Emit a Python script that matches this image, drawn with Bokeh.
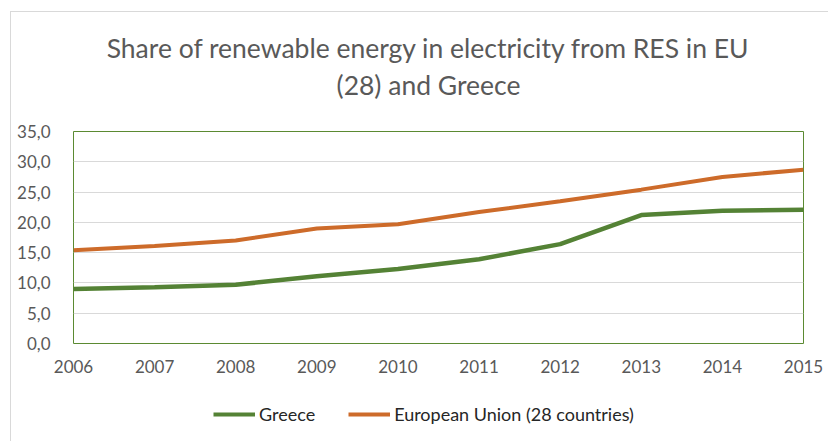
from bokeh.plotting import figure
from bokeh.models import Legend, LegendItem, Label, FixedTicker, ColumnDataSource, Range1d
from bokeh.layouts import column
from bokeh.embed import file_html
from bokeh.resources import INLINE

years = [2006, 2007, 2008, 2009, 2010, 2011, 2012, 2013, 2014, 2015]
greece = [9.0, 9.3, 9.7, 11.1, 12.3, 13.9, 16.4, 21.2, 21.9, 22.1]
eu28 = [15.4, 16.1, 17.0, 19.0, 19.7, 21.7, 23.5, 25.4, 27.5, 28.7]
y_ticks = [0, 5, 10, 15, 20, 25, 30, 35]
y_tick_labels = ["0,0", "5,0", "10,0", "15,0", "20,0", "25,0", "30,0", "35,0"]
x_tick_labels = [str(y) for y in years]
title_lines = ["Share of renewable energy in electricity from RES in EU", "(28) and Greece"]
series_names = ["Greece", "European Union (28 countries)"]
series_colors = ["#548235", "#cd6b2a"]

FONT = "Lato"
TXT = "#595959"
W = 817


def blank_fig(height):
    f = figure(width=W, height=height, output_backend="svg", toolbar_location=None,
               x_range=Range1d(0, 1), y_range=Range1d(0, 1),
               x_axis_location=None, y_axis_location=None,
               min_border=0, min_border_left=0, min_border_right=0,
               min_border_top=0, min_border_bottom=0)
    f.grid.visible = False
    f.outline_line_color = None
    return f


# title block (its frame is aligned with the chart frame by the column layout)
tf = blank_fig(110)
for txt, yy in zip(title_lines, [75, 38]):
    tf.add_layout(Label(x=355, y=yy, x_units="screen", y_units="screen", text=txt,
                        text_align="center", text_baseline="middle",
                        text_font=FONT, text_font_size="26.5px", text_color=TXT))

# main chart
p = figure(frame_width=730, frame_height=212, output_backend="svg", toolbar_location=None,
           x_range=(years[0], years[-1]), y_range=(0, 35), title=None,
           min_border_left=62, min_border_right=25, min_border_top=9, min_border_bottom=0)
p.outline_line_color = "#5b8a32"
p.outline_line_width = 1
p.xgrid.grid_line_color = None
p.ygrid.grid_line_color = "#d9d9d9"
p.ygrid.grid_line_width = 1

p.xaxis.ticker = FixedTicker(ticks=years)
p.xaxis.major_label_overrides = {y: l for y, l in zip(years, x_tick_labels)}
p.yaxis.ticker = FixedTicker(ticks=y_ticks)
p.yaxis.major_label_overrides = {t: l for t, l in zip(y_ticks, y_tick_labels)}
for ax in (p.xaxis, p.yaxis):
    ax.axis_line_color = None
    ax.major_tick_line_color = None
    ax.minor_tick_line_color = None
    ax.major_label_text_font = FONT
    ax.major_label_text_font_size = "17px"
    ax.major_label_text_color = TXT
p.yaxis.major_label_standoff = 17
p.xaxis.major_label_standoff = 10

src = ColumnDataSource(dict(x=years, g=greece, e=eu28))
p.line("x", "g", source=src, line_color=series_colors[0], line_width=4.5)
p.line("x", "e", source=src, line_color=series_colors[1], line_width=4)

# legend block: the series are drawn again here, outside this block's ranges,
# only to give the legend its line swatches
lf = blank_fig(66)
leg_renderers = [lf.line("x", col, source=src, line_color=c, line_width=4)
                 for col, c in zip(["g", "e"], series_colors)]
legend = Legend(items=[LegendItem(label=n, renderers=[r]) for n, r in zip(series_names, leg_renderers)],
                orientation="horizontal", location=(140, 16),
                glyph_width=42, glyph_height=20, label_standoff=4, spacing=33,
                padding=0, margin=0, border_line_color=None, background_fill_alpha=0,
                label_text_font=FONT, label_text_font_size="18px", label_text_color="#262626")
lf.add_layout(legend, "center")

layout = column(tf, p, lf, spacing=0)
layout.margin = (11, 0, 0, 10)
layout.styles = {"border-left": "1px solid #d9d9d9", "border-top": "1px solid #d9d9d9"}

open("out.html", "w").write(file_html(layout, INLINE))
